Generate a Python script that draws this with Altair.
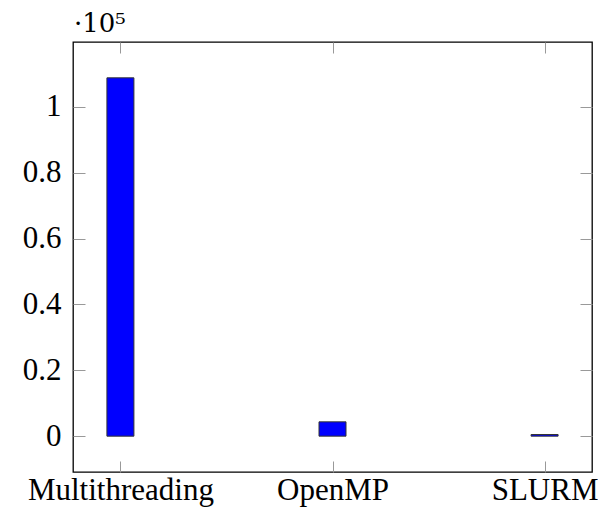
import altair as alt
import pandas as pd

categories = ["Multithreading", "OpenMP", "SLURM"]
values = [108800, 4350, 500]
y_ticks = [0, 20000, 40000, 60000, 80000, 100000]

df = pd.DataFrame({"idx": list(range(len(categories))), "cat": categories, "val": values})
dmax = max(values)
ydom = [-0.1 * dmax, 1.1 * dmax]
xdom = [-0.2, len(categories) - 1 + 0.2]

label_expr = "[" + ",".join(f"'{c}'" for c in categories) + "][datum.value]"
FONT = "Liberation Serif"

xs = alt.Scale(domain=xdom, nice=False, zero=False)
ys = alt.Scale(domain=ydom, nice=False, zero=False)

bars = alt.Chart(df).mark_bar(size=27, color="#0000ff", stroke="#333333", strokeWidth=1).encode(
    x=alt.X("idx:Q", scale=xs, axis=alt.Axis(
        orient="bottom", values=list(range(len(categories))), labelExpr=label_expr,
        title=None, domain=False, grid=False, offset=-11, tickSize=11, tickColor="#999999",
        tickWidth=1, labelPadding=3, labelFont=FONT, labelFontSize=31, labelColor="black",
        labelFlush=False, labelOverlap=False, labelLimit=1000)),
    y=alt.Y("val:Q", scale=ys, axis=alt.Axis(
        orient="left", values=y_ticks, labelExpr="format(datum.value/100000, '.1~f')",
        title=None, domain=False, grid=False, offset=-12, tickSize=12, tickColor="#999999",
        tickWidth=1, labelPadding=12, labelFont=FONT, labelFontSize=31, labelColor="black",
        labelFlush=False, labelOverlap=False, labelLimit=1000)),
)

mirror = alt.Chart(df).mark_bar(size=27, opacity=0).encode(
    x=alt.X("idx:Q", scale=xs, axis=alt.Axis(
        orient="top", values=list(range(len(categories))), labels=False, title=None,
        domain=False, grid=False, offset=-11, tickSize=11, tickColor="#999999", tickWidth=1)),
    y=alt.Y("val:Q", scale=ys, axis=alt.Axis(
        orient="right", values=y_ticks, labels=False, title=None,
        domain=False, grid=False, offset=-12, tickSize=12, tickColor="#999999", tickWidth=1)),
)

chart = alt.layer(mirror, bars).resolve_axis(x="independent", y="independent").properties(
    width=519, height=430,
    autosize=alt.AutoSizeParams(type="none"),
    padding={"left": 65, "top": 34, "right": 6, "bottom": 36},
    title=alt.TitleParams(text="·10⁵", anchor="start", frame="group", font="DejaVu Serif",
                          fontSize=26, fontWeight="normal", color="black", dx=1, offset=5),
).configure_view(stroke="black", strokeWidth=1.3)

chart.save("out.html", embed_options={"renderer": "svg", "actions": False})
